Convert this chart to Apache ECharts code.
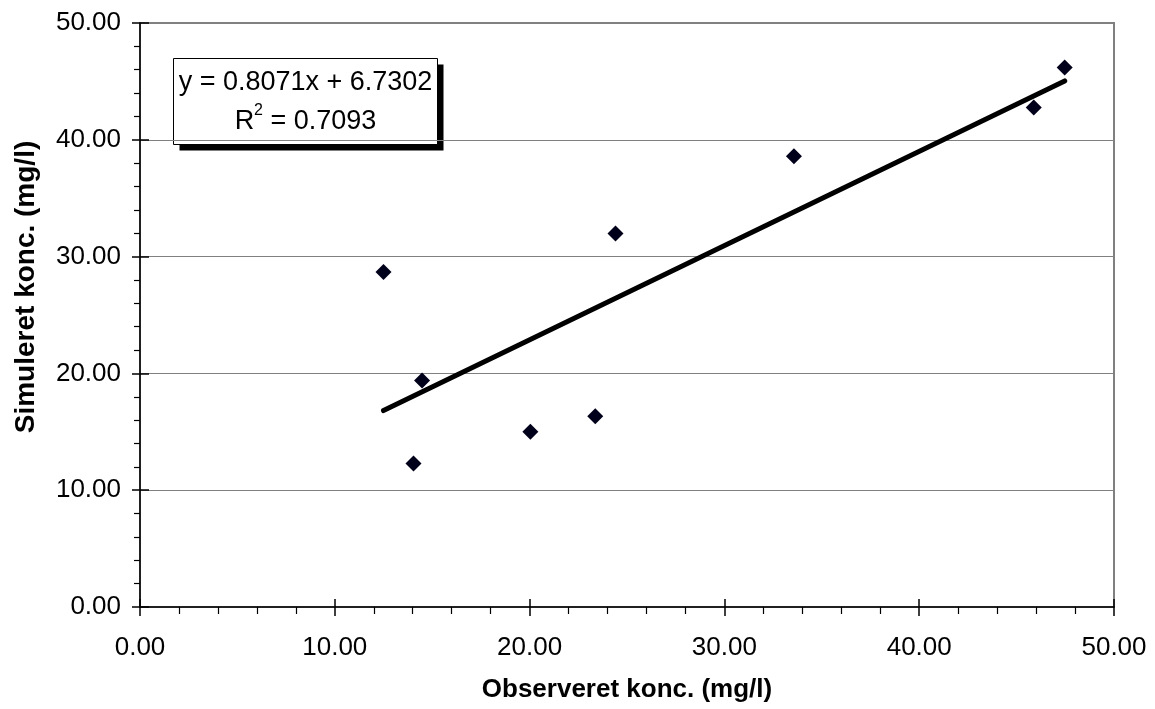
<!DOCTYPE html>
<html>
<head>
<meta charset="utf-8">
<title>Observeret vs. simuleret koncentration</title>
<script src="https://cdn.jsdelivr.net/npm/echarts@6/dist/echarts.min.js"></script>
<style>
  html, body { margin: 0; padding: 0; background: #ffffff; }
  #chart { width: 1155px; height: 709px; }
</style>
</head>
<body>
<div id="chart"></div>
<script>
// Observed vs. simulated concentration (mg/l)
const observed  = [12.50, 14.48, 14.04, 20.04, 23.37, 24.41, 33.57, 45.88, 47.47];
const simulated = [28.68, 19.40, 12.29, 15.00, 16.34, 31.97, 38.59, 42.77, 46.19];

// Linear trend line as stated in the label box
const trendSlope = 0.8071;
const trendIntercept = 6.7302;
const trendR2 = 0.7093;

const axisTitleX = 'Observeret konc. (mg/l)';
const axisTitleY = 'Simuleret konc. (mg/l)';

const points = observed.map((x, i) => [x, simulated[i]]);
const xLo = Math.min(...observed);
const xHi = Math.max(...observed);
const trend = [xLo, xHi].map(x => [x, trendSlope * x + trendIntercept]);

const FONT = "'Liberation Sans', Arial, sans-serif";
const gridBox = { left: 140, right: 41, top: 23, bottom: 102 };

const chart = echarts.init(document.getElementById('chart'), null, { renderer: 'canvas' });

const valueAxisBase = {
  type: 'value', min: 0, max: 50, interval: 10
};

chart.setOption({
  animation: false,
  backgroundColor: '#ffffff',
  grid: [
    Object.assign({ show: true, borderColor: '#808080', borderWidth: 2, backgroundColor: 'transparent' }, gridBox),
    Object.assign({ show: false }, gridBox)
  ],
  xAxis: [
    Object.assign({}, valueAxisBase, {
      gridIndex: 0,
      position: 'bottom',
      name: axisTitleX,
      nameLocation: 'middle',
      nameGap: 70,
      nameTextStyle: { fontFamily: FONT, fontSize: 26, fontWeight: 'bold', color: '#000' },
      axisLine: { show: true, onZero: false, lineStyle: { color: '#000', width: 1.5 } },
      axisTick: { show: true, inside: false, length: 9, lineStyle: { color: '#000', width: 1.5 } },
      minorTick: { show: true, splitNumber: 5, length: 7, lineStyle: { color: '#000', width: 1.2 } },
      axisLabel: { fontFamily: FONT, fontSize: 26, color: '#000', margin: 28, formatter: v => v.toFixed(2) },
      splitLine: { show: false }
    }),
    Object.assign({}, valueAxisBase, {
      gridIndex: 1,
      position: 'bottom',
      axisLine: { show: false },
      axisTick: { show: true, inside: true, length: 8, lineStyle: { color: '#000', width: 1.5 } },
      axisLabel: { show: false },
      splitLine: { show: false }
    })
  ],
  yAxis: [
    Object.assign({}, valueAxisBase, {
      gridIndex: 0,
      position: 'left',
      name: axisTitleY,
      nameLocation: 'middle',
      nameGap: 100,
      nameRotate: 90,
      nameTextStyle: { fontFamily: FONT, fontSize: 28, fontWeight: 'bold', color: '#000', padding: [0, 0, 0, 56] },
      axisLine: { show: true, onZero: false, lineStyle: { color: '#000', width: 1.5 } },
      axisTick: { show: true, inside: false, length: 8, lineStyle: { color: '#000', width: 1.5 } },
      minorTick: { show: true, splitNumber: 5, length: 6, lineStyle: { color: '#000', width: 1.2 } },
      axisLabel: { fontFamily: FONT, fontSize: 26, color: '#000', margin: 19, formatter: v => v.toFixed(2) },
      splitLine: { show: true, lineStyle: { color: '#808080', width: 1.2 } }
    }),
    Object.assign({}, valueAxisBase, {
      gridIndex: 1,
      position: 'left',
      axisLine: { show: false },
      axisTick: { show: true, inside: true, length: 9, lineStyle: { color: '#000', width: 1.5 } },
      axisLabel: { show: false },
      splitLine: { show: false }
    })
  ],
  series: [
    {
      name: 'Målinger',
      type: 'scatter',
      xAxisIndex: 0,
      yAxisIndex: 0,
      symbol: 'diamond',
      symbolSize: 16,
      itemStyle: { color: '#00001a', opacity: 1 },
      data: points,
      z: 4
    },
    {
      name: 'Lineær tendens',
      type: 'line',
      xAxisIndex: 0,
      yAxisIndex: 0,
      showSymbol: false,
      symbol: 'none',
      lineStyle: { color: '#000', width: 5, cap: 'round' },
      data: trend,
      z: 3
    }
  ],
  graphic: [
    {
      type: 'group',
      left: 173,
      top: 58,
      children: [
        { type: 'rect', x: 6, y: 6, shape: { width: 264, height: 86 }, style: { fill: '#000' } },
        { type: 'rect', x: 0, y: 0, shape: { width: 264, height: 86 }, style: { fill: '#fff', stroke: '#000', lineWidth: 1 } },
        {
          type: 'text',
          x: 132,
          y: 44,
          style: {
            text: '{t|y = ' + trendSlope.toFixed(4) + 'x + ' + trendIntercept.toFixed(4) + '}\n{t|R}{s|2}{t| = ' + trendR2.toFixed(4) + '}',
            align: 'center',
            verticalAlign: 'middle',
            fill: '#000',
            rich: {
              t: { fontFamily: FONT, fontSize: 27, lineHeight: 39, fill: '#000' },
              s: { fontFamily: FONT, fontSize: 16, lineHeight: 39, verticalAlign: 'top', padding: [0, 0, 14, 0], fill: '#000' }
            }
          }
        }
      ]
    }
  ]
});
</script>
</body>
</html>
